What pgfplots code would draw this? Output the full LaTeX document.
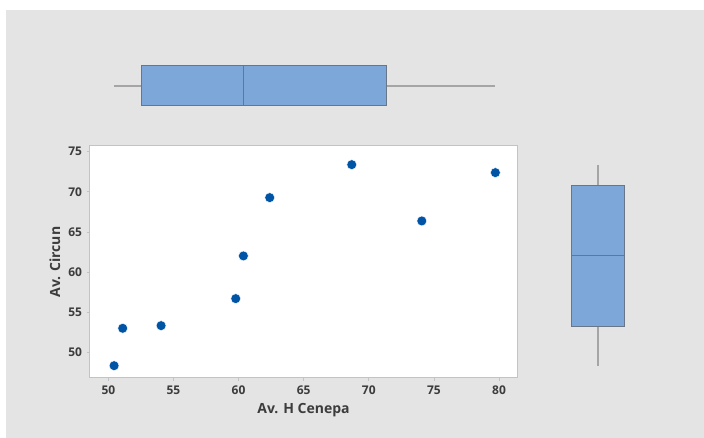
\documentclass[border=0pt]{standalone}
\usepackage{pgfplots}
\pgfplotsset{compat=1.18}
\usepgfplotslibrary{statistics}
\usepackage{fontspec}
\setmainfont{Open Sans}
\definecolor{bgc}{RGB}{228,228,228}
\definecolor{framec}{RGB}{195,195,195}
\definecolor{txtc}{RGB}{60,60,60}
\definecolor{markc}{RGB}{0,84,166}
\definecolor{boxfill}{RGB}{125,166,217}
\definecolor{boxborder}{RGB}{105,118,135}
\definecolor{whiskc}{RGB}{165,165,165}
\begin{document}
\begin{tikzpicture}
\fill[white] (0,0) rectangle (528pt,328.5pt);
\fill[bgc] (4.5pt,0) rectangle (528pt,321pt);
% main scatter
\begin{axis}[
  at={(67.5pt,45pt)}, anchor=south west, scale only axis,
  width=320.25pt, height=174pt,
  xmin=48.59, xmax=81.38, ymin=46.85, ymax=75.7,
  xtick={50,55,...,80}, ytick={50,55,...,75},
  axis background/.style={fill=white},
  axis line style={framec, line width=0.75pt},
  tick style={framec, line width=0.6pt},
  tick align=outside, major tick length=2.5pt,
  xtick pos=bottom, ytick pos=left,
  /pgf/number format/assume math mode=true,
  ticklabel style={font=\fontsize{9}{10}\selectfont\bfseries, text=txtc},
  xlabel={Av. H Cenepa}, ylabel={Av. Circun},
  every axis x label/.style={at={(axis description cs:0.5,-0.138)}, anchor=center, font=\fontsize{10.5}{12}\selectfont\bfseries, text=txtc},
  every axis y label/.style={at={(axis description cs:-0.082,0.5)}, anchor=center, rotate=90, font=\fontsize{10.5}{12}\selectfont\bfseries, text=txtc},
]
\addplot[only marks, mark=*, mark size=3.7pt, mark options={fill=markc, draw=white, line width=0.3pt}] table {
x y
50.44 48.38
51.10 53.03
54.05 53.36
59.78 56.72
60.37 62.03
62.39 69.28
68.69 73.38
74.07 66.38
79.72 72.39
};
\end{axis}
% top boxplot
\begin{axis}[
  at={(67.5pt,234pt)}, anchor=south west, scale only axis,
  width=320.25pt, height=60pt,
  xmin=48.59, xmax=81.38, ymin=0, ymax=1, hide axis,
  boxplot/every whisker/.style={draw=whiskc, line width=1pt},
  boxplot/every box/.style={draw=boxborder, fill=boxfill, line width=0.75pt},
  boxplot/every median/.style={draw=boxborder, line width=0.75pt},
]
\addplot[boxplot prepared={draw position=0.5, lower whisker=50.44, lower quartile=52.58, median=60.37, upper quartile=71.38, upper whisker=79.72, box extend=0.5, whisker extend=0}] coordinates {};
\end{axis}
% right boxplot
\begin{axis}[
  at={(408.75pt,45pt)}, anchor=south west, scale only axis,
  width=79.5pt, height=174pt,
  xmin=0, xmax=1, ymin=46.85, ymax=75.7, hide axis,
  boxplot/draw direction=y,
  boxplot/every whisker/.style={draw=whiskc, line width=1pt},
  boxplot/every box/.style={draw=boxborder, fill=boxfill, line width=0.75pt},
  boxplot/every median/.style={draw=boxborder, line width=0.75pt},
]
\addplot[boxplot prepared={draw position=0.5, lower whisker=48.38, lower quartile=53.20, median=62.03, upper quartile=70.84, upper whisker=73.38, box extend=0.5, whisker extend=0}] coordinates {};
\end{axis}
\end{tikzpicture}
\end{document}
